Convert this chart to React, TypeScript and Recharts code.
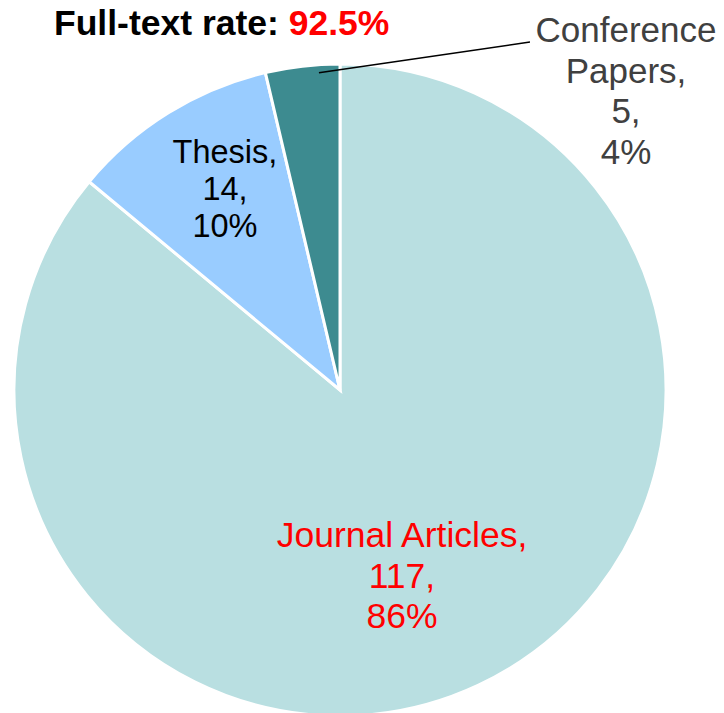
import React from 'react';
import { PieChart, Pie, Cell, Customized } from 'recharts';

const categories = ['Journal Articles', 'Thesis', 'Conference Papers'];
const counts = [117, 14, 5];
const colors = ['#B9DFE1', '#99CCFF', '#3D8B90'];
const labelColors = ['#FF0000', '#000000', '#404040'];
const titleText = 'Full-text rate: ';
const titleValue = '92.5%';

const data = categories.map((name, i) => ({ name, value: counts[i] }));

const FONT = '"Liberation Sans", Arial, sans-serif';

const renderLabel = (props: any) => {
  const { cx, cy, index, percent, value, name, outerRadius } = props;
  const pct = Math.round(percent * 100) + '%';
  const color = labelColors[index];
  if (index === 0) {
    const x = cx + 62;
    const y0 = cy + 157;
    const fs = 35.5;
    return (
      <g>
        <text x={x} y={y0} textAnchor="middle" fill={color} fontSize={fs} fontFamily={FONT}>{name + ','}</text>
        <text x={x} y={y0 + 40.5} textAnchor="middle" fill={color} fontSize={fs} fontFamily={FONT}>{value + ','}</text>
        <text x={x} y={y0 + 81} textAnchor="middle" fill={color} fontSize={fs} fontFamily={FONT}>{pct}</text>
      </g>
    );
  }
  if (index === 1) {
    const x = cx - 115;
    const y0 = cy - 227;
    const fs = 32.5;
    return (
      <g>
        <text x={x} y={y0} textAnchor="middle" fill={color} fontSize={fs} fontFamily={FONT}>{name + ','}</text>
        <text x={x} y={y0 + 37} textAnchor="middle" fill={color} fontSize={fs} fontFamily={FONT}>{value + ','}</text>
        <text x={x} y={y0 + 74} textAnchor="middle" fill={color} fontSize={fs} fontFamily={FONT}>{pct}</text>
      </g>
    );
  }
  const ang = (93.8 * Math.PI) / 180;
  const sx = cx + outerRadius * 0.975 * Math.cos(ang);
  const sy = cy - outerRadius * 0.975 * Math.sin(ang);
  const ex = cx + 190;
  const ey = cy - 348;
  const x = cx + 286;
  const y0 = cy - 348;
  const fs = 35;
  const words = name.split(' ');
  return (
    <g>
      <line x1={sx} y1={sy} x2={ex} y2={ey} stroke="#000000" strokeWidth={1.5} />
      <text x={x} y={y0} textAnchor="middle" fill={color} fontSize={fs} fontFamily={FONT}>{words[0]}</text>
      <text x={x} y={y0 + 40.5} textAnchor="middle" fill={color} fontSize={fs} fontFamily={FONT}>{words[1] + ','}</text>
      <text x={x} y={y0 + 81} textAnchor="middle" fill={color} fontSize={fs} fontFamily={FONT}>{value + ','}</text>
      <text x={x} y={y0 + 121.5} textAnchor="middle" fill={color} fontSize={fs} fontFamily={FONT}>{pct}</text>
    </g>
  );
};

const Title = () => (
  <text x={54} y={35} fontSize={35.5} fontWeight="bold" fontFamily={FONT} fill="#000000">
    {titleText}
    <tspan fill="#FF0000">{titleValue}</tspan>
  </text>
);

export default function App() {
  return (
    <div style={{ position: 'absolute', left: 0, top: 0, width: 724, height: 713, background: '#FFFFFF' }}>
      <PieChart width={724} height={713} margin={{ top: 0, right: 0, bottom: 0, left: 0 }}>
        <Pie
          data={data}
          dataKey="value"
          nameKey="name"
          cx={340}
          cy={390}
          outerRadius={326}
          startAngle={90}
          endAngle={-270}
          stroke="#FFFFFF"
          strokeWidth={3}
          isAnimationActive={false}
          label={renderLabel}
          labelLine={false}
        >
          {data.map((d, i) => (
            <Cell key={d.name} fill={colors[i]} />
          ))}
        </Pie>
        <Customized component={Title} />
      </PieChart>
    </div>
  );
}
